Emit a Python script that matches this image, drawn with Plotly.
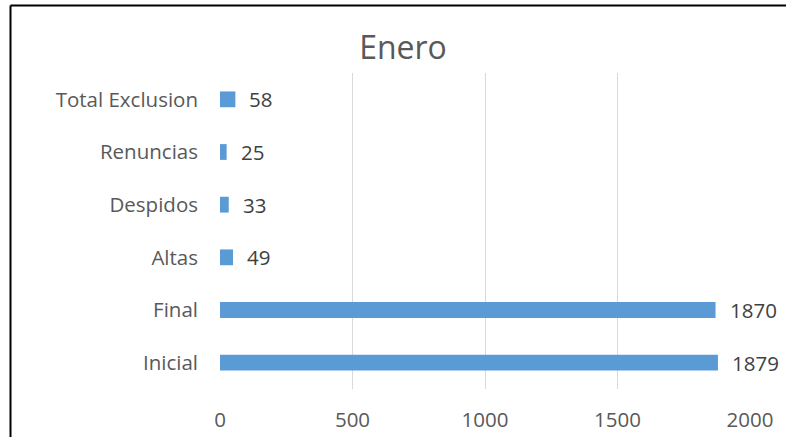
import plotly.graph_objects as go

categories = ["Inicial", "Final", "Altas", "Despidos", "Renuncias", "Total Exclusion"]
values = [1879, 1870, 49, 33, 25, 58]
x_ticks = [0, 500, 1000, 1500, 2000]
title_text = "Enero"

W, H = 786, 437
L, R, T, B = 220, 36, 73, 48
pw, ph = W - L - R, H - T - B

FONT = "Open Sans"
GRAY = "#595959"

fig = go.Figure()
fig.add_trace(go.Bar(
    y=categories, x=values, orientation="h",
    marker=dict(color="#5B9BD5", line=dict(width=0)),
    width=0.3,
    hoverinfo="skip",
))

for c, v in zip(categories, values):
    fig.add_annotation(x=v, y=c, text=str(v), showarrow=False,
                       xanchor="left", yanchor="middle", xshift=12,
                       font=dict(family=FONT, size=20.5, color="#404040"))

def px_x(p):
    return (p - L) / pw

def px_y(p):
    return (H - B - p) / ph

fig.add_shape(type="line", xref="paper", yref="paper",
              x0=px_x(10.5), x1=px_x(800), y0=px_y(5.5), y1=px_y(5.5),
              line=dict(color="black", width=2))
fig.add_shape(type="line", xref="paper", yref="paper",
              x0=px_x(10.5), x1=px_x(10.5), y0=px_y(5.5), y1=px_y(450),
              line=dict(color="black", width=2))

fig.update_layout(
    width=W, height=H,
    margin=dict(l=L, r=R, t=T, b=B, autoexpand=False),
    paper_bgcolor="white", plot_bgcolor="white",
    showlegend=False,
    title=dict(text=title_text, x=403 / W, xanchor="center",
               y=1 - 48 / H, yanchor="middle",
               font=dict(family=FONT, size=32, color=GRAY)),
    xaxis=dict(range=[0, 2000], tickvals=x_ticks, ticktext=[str(t) for t in x_ticks],
               showgrid=True, gridcolor="#D9D9D9", gridwidth=1,
               zeroline=False, showline=False, ticks="",
               tickfont=dict(family=FONT, size=20.5, color=GRAY),
               ticklabelstandoff=16),
    yaxis=dict(showgrid=False, zeroline=False, showline=False, ticks="",
               tickfont=dict(family=FONT, size=20.5, color=GRAY),
               ticklabelstandoff=21, range=[-0.5, 5.5]),
)

fig.write_html("out.html")
